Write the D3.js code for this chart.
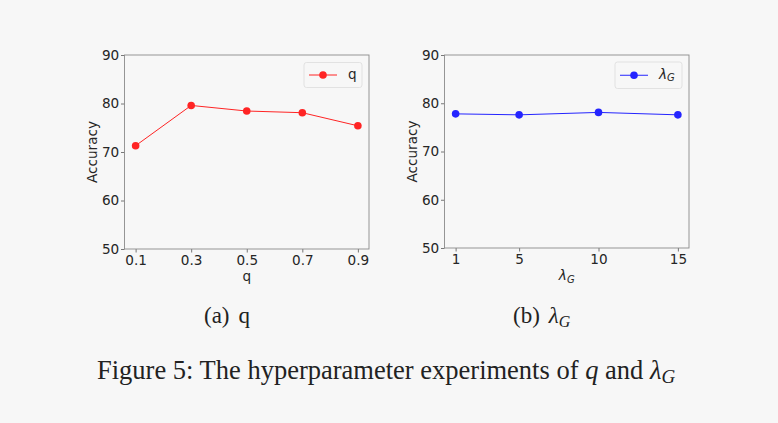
<!DOCTYPE html>
<html>
<head>
<meta charset="utf-8">
<script src="https://cdn.jsdelivr.net/npm/d3@7"></script>
<style>
  html, body { margin: 0; padding: 0; background: #f7f7f7; }
  svg { display: block; }
</style>
</head>
<body>
<svg id="chart" width="778" height="423"></svg>
<script>
// data
const qValues = [0.1, 0.3, 0.5, 0.7, 0.9];
const qAccuracy = [71.3, 79.6, 78.45, 78.1, 75.4];
const lambdaValues = [1, 5, 10, 15];
const lambdaAccuracy = [77.8, 77.6, 78.1, 77.6];
const yTicks = [50, 60, 70, 80, 90];
const qTickLabels = ["0.1", "0.3", "0.5", "0.7", "0.9"];
const lambdaTickLabels = ["1", "5", "10", "15"];

const svg = d3.select('#chart');
const TICK_FONT = "'DejaVu Sans', sans-serif";
const SERIF = "'Liberation Serif', 'Times New Roman', serif";
const FS = 13.6;
const TXT = '#262626';

function drawPanel(cfg) {
  const { left, right, top, bottom, xs, ys, color, xTickLabels } = cfg;
  const g = svg.append('g');

  // matplotlib style 5% margins on x
  const span = d3.max(xs) - d3.min(xs);
  const x = d3.scaleLinear()
    .domain([d3.min(xs) - span * 0.05, d3.max(xs) + span * 0.05])
    .range([left, right]);
  const y = d3.scaleLinear().domain([50, 90]).range([bottom, top]);

  // axes
  const xAxis = d3.axisBottom(x).tickValues(xs)
    .tickFormat((d, i) => xTickLabels[i]).tickSize(3.5).tickPadding(3.2).tickSizeOuter(0);
  const yAxis = d3.axisLeft(y).tickValues(yTicks).tickSize(3.5).tickPadding(1.8).tickSizeOuter(0);

  const gx = g.append('g').attr('transform', `translate(0,${bottom})`).call(xAxis);
  const gy = g.append('g').attr('transform', `translate(${left},0)`).call(yAxis);
  [gx, gy].forEach(a => {
    a.attr('font-size', null).attr('font-family', null);
    a.select('.domain').remove();
    a.selectAll('.tick line').attr('stroke', '#555').attr('stroke-width', 0.8);
    a.selectAll('.tick text')
      .attr('fill', TXT)
      .style('font-family', TICK_FONT)
      .style('font-size', FS + 'px');
  });

  // frame
  g.append('rect')
    .attr('x', left).attr('y', top)
    .attr('width', right - left).attr('height', bottom - top)
    .attr('fill', 'none')
    .attr('stroke', '#8a8a8a')
    .attr('stroke-width', 0.9);

  // line + markers
  const pts = xs.map((v, i) => [v, ys[i]]);
  g.append('path')
    .datum(pts)
    .attr('d', d3.line().x(d => x(d[0])).y(d => y(d[1])))
    .attr('fill', 'none')
    .attr('stroke', color)
    .attr('stroke-width', 1);
  g.selectAll('.dot')
    .data(pts)
    .join('circle')
    .attr('class', 'dot')
    .attr('cx', d => x(d[0]))
    .attr('cy', d => y(d[1]))
    .attr('r', 3.8)
    .attr('fill', color);

  // y label
  g.append('text')
    .attr('transform', `translate(${left - 28},${(top + bottom) / 2}) rotate(-90)`)
    .attr('text-anchor', 'middle')
    .style('font-family', TICK_FONT)
    .style('font-size', FS + 'px')
    .attr('fill', TXT)
    .text('Accuracy');

  // x label
  const xl = g.append('text')
    .attr('x', (left + right) / 2)
    .attr('y', bottom + 32)
    .attr('text-anchor', 'middle')
    .style('font-family', TICK_FONT)
    .style('font-size', FS + 'px')
    .attr('fill', TXT);
  cfg.label(xl);

  // legend
  const lg = cfg.legend;
  g.append('rect')
    .attr('x', lg.x).attr('y', lg.y)
    .attr('width', lg.w).attr('height', lg.h)
    .attr('rx', 2.5)
    .attr('fill', '#f7f7f7')
    .attr('stroke', '#dcdcdc')
    .attr('stroke-width', 0.8);
  const ly = lg.y + lg.h / 2;
  g.append('line')
    .attr('x1', lg.x + 5).attr('x2', lg.x + 33)
    .attr('y1', ly).attr('y2', ly)
    .attr('stroke', color).attr('stroke-width', 1);
  g.append('circle')
    .attr('cx', lg.x + 19).attr('cy', ly).attr('r', 3.8).attr('fill', color);
  const lt = g.append('text')
    .attr('x', lg.x + 44)
    .attr('y', ly + 3.5)
    .style('font-family', TICK_FONT)
    .style('font-size', FS + 'px')
    .attr('fill', TXT);
  cfg.label(lt);
}

function lambdaLabel(t) {
  t.append('tspan').attr('font-style', 'italic').text('λ');
  t.append('tspan').attr('font-style', 'italic').style('font-size', '10px').attr('dy', 2.5).text('G');
}

drawPanel({
  left: 124.5, right: 369, top: 55, bottom: 249,
  xs: qValues, ys: qAccuracy, xTickLabels: qTickLabels,
  color: '#ff2424',
  label: t => t.text('q'),
  legend: { x: 304, y: 62.5, w: 58, h: 25 }
});

drawPanel({
  left: 444.5, right: 689, top: 55, bottom: 248,
  xs: lambdaValues, ys: lambdaAccuracy, xTickLabels: lambdaTickLabels,
  color: '#2424ff',
  label: lambdaLabel,
  legend: { x: 615, y: 62, w: 67, h: 26.5 }
});

// sub captions
const capA = svg.append('text')
  .attr('x', 204).attr('y', 322.5)
  .style('font-family', SERIF).style('font-size', '23px').attr('fill', '#222');
capA.append('tspan').text('(a)');
capA.append('tspan').attr('dx', 9).text('q');

const capB = svg.append('text')
  .attr('x', 513).attr('y', 322.5)
  .style('font-family', SERIF).style('font-size', '23px').attr('fill', '#222');
capB.append('tspan').text('(b)');
capB.append('tspan').attr('dx', 9).attr('font-style', 'italic').text('λ');
capB.append('tspan').attr('font-style', 'italic').style('font-size', '16px').attr('dy', 4).text('G');

// figure caption
const fig = svg.append('text')
  .attr('x', 97).attr('y', 379)
  .style('font-family', SERIF).style('font-size', '26.5px').attr('fill', '#222');
fig.append('tspan').text('Figure 5: The hyperparameter experiments of ');
fig.append('tspan').attr('font-style', 'italic').text('q');
fig.append('tspan').text(' and ');
fig.append('tspan').attr('font-style', 'italic').text('λ');
fig.append('tspan').attr('font-style', 'italic').style('font-size', '19px').attr('dy', 4).text('G');
</script>
</body>
</html>
